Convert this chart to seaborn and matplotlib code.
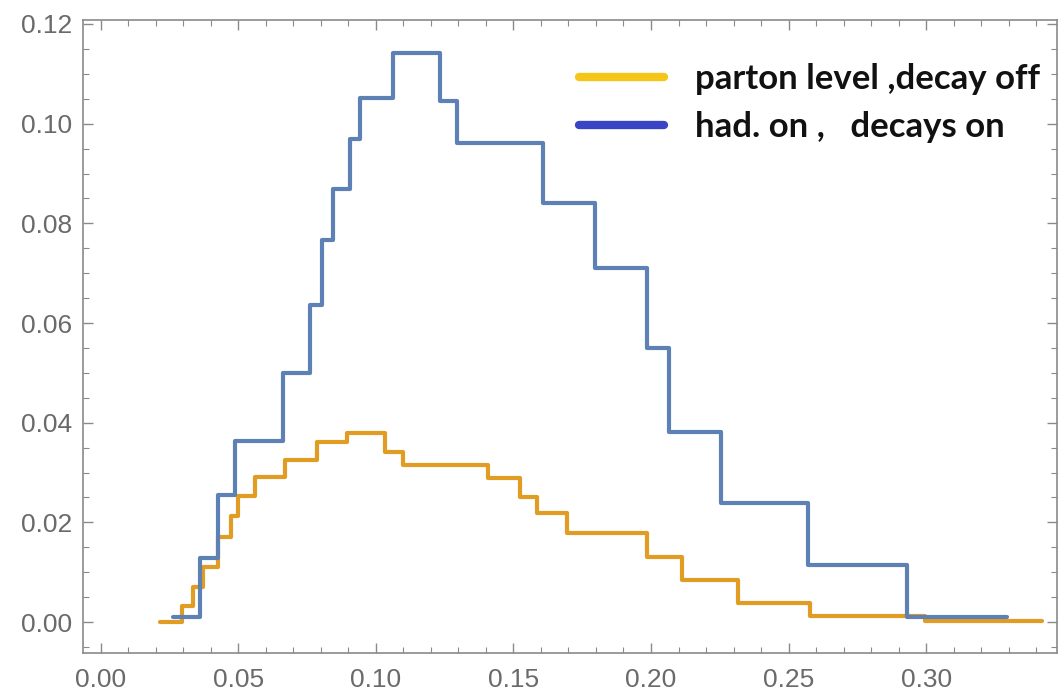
import matplotlib
matplotlib.use("Agg")
import matplotlib.pyplot as plt
from matplotlib.lines import Line2D
from matplotlib.ticker import MultipleLocator, FormatStrFormatter
import numpy as np
import pandas as pd
import seaborn as sns

# Histogram bin edges and heights for each configuration
parton_edges = [0.0215, 0.0295, 0.0335, 0.0371, 0.0425, 0.0473, 0.0498, 0.0560,
                0.0669, 0.0785, 0.0895, 0.1033, 0.1098, 0.1407, 0.1524, 0.1585,
                0.1695, 0.1985, 0.2113, 0.2316, 0.2578, 0.2996, 0.3422]
parton_values = [0.0000, 0.0032, 0.0070, 0.0110, 0.0171, 0.0213, 0.0253, 0.0291,
                 0.0325, 0.0361, 0.0379, 0.0341, 0.0315, 0.0289, 0.0251, 0.0219,
                 0.0179, 0.0130, 0.0084, 0.0038, 0.0012, 0.0003]

hadron_edges = [0.0262, 0.0360, 0.0425, 0.0487, 0.0662, 0.0760, 0.0804, 0.0844,
                0.0905, 0.0942, 0.1062, 0.1233, 0.1295, 0.1607, 0.1796, 0.1985,
                0.2065, 0.2255, 0.2571, 0.2931, 0.3295]
hadron_values = [0.0011, 0.0128, 0.0255, 0.0363, 0.0500, 0.0636, 0.0766, 0.0868,
                 0.0970, 0.1051, 0.1141, 0.1045, 0.0962, 0.0841, 0.0710, 0.0550,
                 0.0381, 0.0239, 0.0114, 0.0010]

legend_labels = ["parton level ,decay off", "had. on ,   decays on"]

line_colors = ["#E19C24", "#5E81B5"]
legend_colors = ["#F5C518", "#3B44C4"]


def step_frame(edges, values, name):
    # repeat the last height so the final bin is drawn to its right edge
    return pd.DataFrame({"x": edges, "y": list(values) + [values[-1]], "series": name})


sns.set_theme(style="white")
plt.rcParams["font.family"] = ["Liberation Sans", "DejaVu Sans"]

fig = plt.figure(figsize=(10.58, 6.99), dpi=100)
ax = fig.add_axes([83 / 1058, 46 / 699, 974 / 1058, 633 / 699])

frames = [step_frame(parton_edges, parton_values, legend_labels[0]),
          step_frame(hadron_edges, hadron_values, legend_labels[1])]
for df, color in zip(frames, line_colors):
    sns.lineplot(data=df, x="x", y="y", ax=ax, color=color, linewidth=3,
                 drawstyle="steps-post", estimator=None, legend=False)

ax.set_xlim(-0.0065, 0.3476)
ax.set_ylim(-0.0062, 0.1208)
ax.set_xlabel("")
ax.set_ylabel("")

ax.xaxis.set_major_locator(MultipleLocator(0.05))
ax.xaxis.set_minor_locator(MultipleLocator(0.01))
ax.yaxis.set_major_locator(MultipleLocator(0.02))
ax.yaxis.set_minor_locator(MultipleLocator(0.005))
ax.xaxis.set_major_formatter(FormatStrFormatter("%.2f"))
ax.yaxis.set_major_formatter(FormatStrFormatter("%.2f"))

frame_color = "#8a8a8a"
for side in ["left", "right", "top", "bottom"]:
    ax.spines[side].set_visible(True)
    ax.spines[side].set_color(frame_color)
    ax.spines[side].set_linewidth(1.2)

ax.tick_params(which="both", direction="in", top=True, right=True,
               bottom=True, left=True, color=frame_color)
ax.tick_params(which="major", length=7, width=1.0, labelsize=19,
               labelcolor="#6a6a6a", pad=8)
ax.tick_params(axis="x", which="major", pad=11)
ax.tick_params(which="minor", length=4, width=0.8)

handles = [Line2D([0], [0], color=c, linewidth=6, solid_capstyle="round")
           for c in legend_colors]
leg = ax.legend(handles, legend_labels, loc="upper right",
                bbox_to_anchor=(0.9825, 0.932), frameon=False,
                borderpad=0, borderaxespad=0,
                handlelength=2.45, handletextpad=0.9, labelspacing=0.45,
                prop={"family": "Lato", "weight": "bold", "size": 25})
for t in leg.get_texts():
    t.set_color("#111111")

fig.savefig("out.png", dpi=100)
